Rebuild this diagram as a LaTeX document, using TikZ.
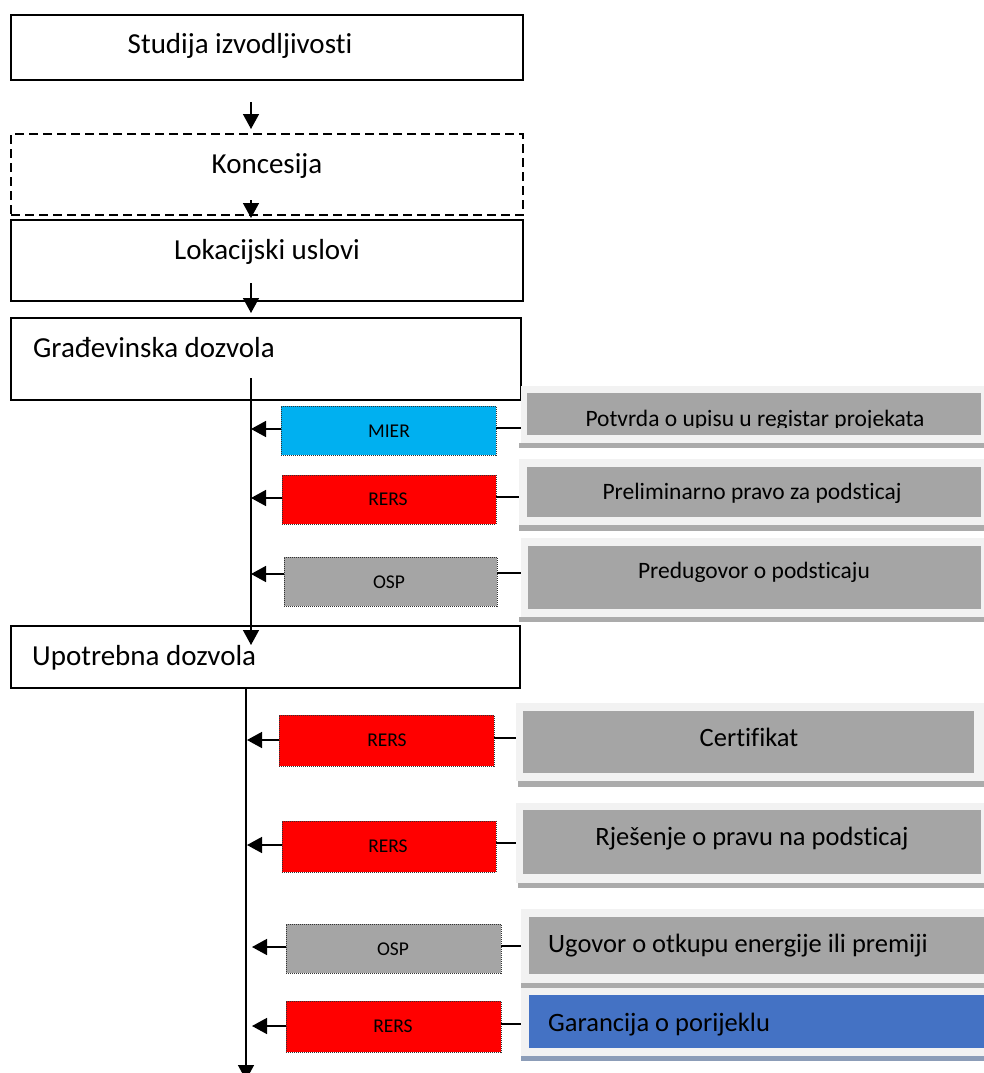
\documentclass[tikz,border=0pt]{standalone}
\usepackage{fontspec}
\setmainfont{Carlito}[Ligatures=NoCommon]
\usetikzlibrary{arrows.meta}
\definecolor{mierblue}{HTML}{00B0F0}
\definecolor{rersred}{HTML}{FF0000}
\definecolor{gbox}{HTML}{A5A5A5}
\definecolor{gouter}{HTML}{F2F2F2}
\definecolor{gshadow}{HTML}{ABABAB}
\definecolor{bluebox}{HTML}{4472C4}
\definecolor{blueshadow}{HTML}{8C9DB8}
\begin{document}
\begin{tikzpicture}[x=1pt,y=-1pt,
  box/.style={anchor=north west,inner sep=0pt,outer sep=0pt},
  mainbox/.style={box,draw=black,line width=1.5pt,fill=white},
  small/.style={box,draw=black!80,line width=1pt,dash pattern=on 1pt off 1pt},
  outerbox/.style={box,fill=gouter},
  innerbox/.style={box,fill=gbox},
  bigtxt/.style={inner sep=0pt,font=\fontsize{29}{34}\selectfont},
  sidetxt/.style={inner sep=0pt,font=\fontsize{23.5}{28}\selectfont},
  sidetxtb/.style={inner sep=0pt,font=\fontsize{26.5}{31}\selectfont},
  labtxt/.style={inner sep=0pt,font=\fontsize{19.5}{23}\selectfont},
  arr/.style={line width=1.5pt,-{Triangle[length=15pt,width=16pt]}},
  conn/.style={line width=1.5pt}]
\useasboundingbox (0,0) rectangle (983,1073);

% ---- main chain ----
\node[mainbox,minimum width=512pt,minimum height=65pt] (stud) at (11,15) {};
\node[bigtxt,anchor=base] (studt) at (240,53) {Studija izvodljivosti};

\node[mainbox,dash pattern=on 9pt off 5pt,minimum width=512pt,minimum height=81pt] (kon) at (11,134) {};
\node[bigtxt,anchor=base] (kont) at (267,173) {Koncesija};

\node[mainbox,minimum width=512pt,minimum height=81pt] (lok) at (11,220) {};
\node[bigtxt,anchor=base] (lokt) at (267,259) {Lokacijski uslovi};

\node[mainbox,minimum width=510pt,minimum height=82pt] (gra) at (11,318) {};
\node[bigtxt,anchor=base west] (grat) at (33,357) {Građevinska dozvola};

\node[mainbox,minimum width=509pt,minimum height=62pt] (upo) at (11,626) {};
\node[bigtxt,anchor=base west] (upot) at (32,665) {Upotrebna dozvola};

\coordinate (a1s) at (251,102); \coordinate (a1e) at (251,129);
\coordinate (a2s) at (251,200); \coordinate (a2e) at (251,218);
\coordinate (a3s) at (251,283); \coordinate (a3e) at (251,313);
\coordinate (v1s) at (251,378); \coordinate (v1e) at (251,645);
\coordinate (v2s) at (246,687); \coordinate (v2e) at (246,1080);
\draw[arr] (a1s) -- (a1e);
\draw[arr] (a2s) -- (a2e);
\draw[arr] (a3s) -- (a3e);
\draw[arr] (v1s) -- (v1e);
\draw[arr] (v2s) -- (v2e);

% ---- right side boxes, section 1 ----
\fill[gshadow] (519,443) rectangle (985,448);
\node[outerbox,minimum width=464pt,minimum height=57pt] (potO) at (521,386) {};
\node[innerbox,minimum width=454pt,minimum height=42pt] (pot) at (527,393) {};
\begin{scope}
  \clip (527,393) rectangle (981,427);
  \node[sidetxt,anchor=base] (pott) at (755,426) {Potvrda o upisu u registar projekata};
\end{scope}

\fill[gshadow] (519,525) rectangle (985,531);
\node[outerbox,minimum width=466pt,minimum height=66pt] (preO) at (519,459) {};
\node[innerbox,minimum width=454pt,minimum height=50pt] (pre) at (527,467) {};
\node[sidetxt,anchor=base] (pret) at (752,499) {Preliminarno pravo za podsticaj};

\fill[gshadow] (519,617) rectangle (985,622);
\node[outerbox,minimum width=464pt,minimum height=79pt] (pdgO) at (521,538) {};
\node[innerbox,minimum width=453pt,minimum height=63pt] (pdg) at (528,546) {};
\node[sidetxt,anchor=base] (pdgt) at (754,578) {Predugovor o podsticaju};

% ---- right side boxes, section 2 ----
\fill[gshadow] (518,781) rectangle (985,787);
\node[outerbox,minimum width=469pt,minimum height=78pt] (cerO) at (516,703) {};
\node[innerbox,minimum width=451pt,minimum height=62pt] (cer) at (523,711) {};
\node[sidetxtb,anchor=base] (cert) at (749,746) {Certifikat};

\fill[gshadow] (518,883) rectangle (985,888);
\node[outerbox,minimum width=469pt,minimum height=80pt] (rjeO) at (516,803) {};
\node[innerbox,minimum width=458pt,minimum height=64pt] (rje) at (523,810) {};
\node[sidetxtb,anchor=base] (rjet) at (752,845) {Rješenje o pravu na podsticaj};

\fill[gshadow] (521,983) rectangle (985,988);
\node[outerbox,minimum width=464pt,minimum height=74pt] (ugoO) at (521,909) {};
\node[innerbox,minimum width=456pt,minimum height=57pt] (ugo) at (529,917) {};
\node[sidetxtb,anchor=base west] (ugot) at (548,952) {Ugovor o otkupu energije ili premiji};

\fill[blueshadow] (521,1056) rectangle (985,1061);
\node[outerbox,minimum width=464pt,minimum height=68pt] (garO) at (521,988) {};
\node[innerbox,fill=bluebox,minimum width=456pt,minimum height=53pt] (gar) at (529,995) {};
\node[sidetxtb,anchor=base west] (gart) at (548,1031) {Garancija o porijeklu};

% ---- small institution boxes ----
\node[small,fill=mierblue,minimum width=215pt,minimum height=49pt] (mier) at (281,406) {};
\node[labtxt,anchor=base] (miert) at (389,437) {MIER};
\node[small,fill=rersred,minimum width=214pt,minimum height=49pt] (rers1) at (282,475) {};
\node[labtxt,anchor=base] (rers1t) at (388,505) {RERS};
\node[small,fill=gbox,minimum width=213pt,minimum height=49pt] (osp1) at (284,557) {};
\node[labtxt,anchor=base] (osp1t) at (389,588) {OSP};

\node[small,fill=rersred,minimum width=215pt,minimum height=51pt] (rers2) at (279,715) {};
\node[labtxt,anchor=base] (rers2t) at (387,746) {RERS};
\node[small,fill=rersred,minimum width=214pt,minimum height=51pt] (rers3) at (282,821) {};
\node[labtxt,anchor=base] (rers3t) at (388,852) {RERS};
\node[small,fill=gbox,minimum width=215pt,minimum height=49pt] (osp2) at (286,924) {};
\node[labtxt,anchor=base] (osp2t) at (393,955) {OSP};
\node[small,fill=rersred,minimum width=215pt,minimum height=51pt] (rers4) at (286,1001) {};
\node[labtxt,anchor=base] (rers4t) at (393,1032) {RERS};

% ---- arrows from small boxes to the vertical lines ----
\draw[arr] (mier.west |- 0,429) -- (v1s |- 0,429);
\draw[arr] (rers1.west |- 0,498) -- (v1s |- 0,498);
\draw[arr] (osp1.west |- 0,574) -- (v1s |- 0,574);
\draw[arr] (rers2.west |- 0,740) -- (247,740);
\draw[arr] (rers3.west |- 0,845) -- (247,845);
\draw[arr] (osp2.west |- 0,947) -- (252,947);
\draw[arr] (rers4.west |- 0,1026) -- (252,1026);

% ---- connectors from documents to institutions ----
\draw[conn] (mier.east |- 0,428) -- (potO.west |- 0,428);
\draw[conn] (rers1.east |- 0,497) -- (preO.west |- 0,497);
\draw[conn] (osp1.east |- 0,573) -- (pdgO.west |- 0,573);
\draw[conn] (rers2.east |- 0,738) -- (cerO.west |- 0,738);
\draw[conn] (rers3.east |- 0,843) -- (rjeO.west |- 0,843);
\draw[conn] (osp2.east |- 0,946) -- (ugoO.west |- 0,946);
\draw[conn] (rers4.east |- 0,1024) -- (garO.west |- 0,1024);
\end{tikzpicture}
\end{document}
